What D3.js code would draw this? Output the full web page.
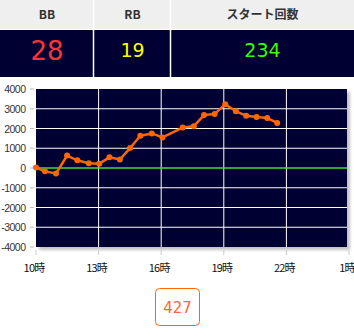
<!DOCTYPE html>
<html lang="ja">
<head>
  <meta charset="utf-8">
  <title>スランプグラフ</title>
  <script src="https://cdnjs.cloudflare.com/ajax/libs/d3/7.8.5/d3.min.js"></script>
  <style>
    body { margin: 0; background: #fff; }
    svg { display: block; }
  </style>
</head>
<body>
<div id="ChartArea"></div>
<script>
// ヘッダーの項目と値
const headLabels = ["BB", "RB", "スタート回数"];
const headValues = ["28", "19", "234"];
const headColors = ["#ff3333", "#ffff00", "#33ff00"];

// グラフデータ（時刻と差枚）
const hours = [10.0, 10.43, 10.96, 11.49, 11.98, 12.53, 13.03, 13.52, 14.02, 14.51, 15.0, 15.55, 16.06,
               17.03, 17.56, 18.05, 18.56, 19.07, 19.58, 20.07, 20.57, 21.08, 21.56];
const values = [20, -170, -280, 630, 390, 240, 220, 540, 430, 1010, 1630, 1750, 1550,
                2050, 2110, 2680, 2730, 3230, 2870, 2650, 2580, 2530, 2280];
const xTicks = [10, 13, 16, 19, 22, 25];
const xTickLabels = ["10時", "13時", "16時", "19時", "22時", "1時"];
const yTicks = [4000, 3000, 2000, 1000, 0, -1000, -2000, -3000, -4000];
const total = "427";

const W = 354, H = 336;
const svg = d3.select("#ChartArea").append("svg")
  .attr("width", W).attr("height", H);

// ---- header table ----
const colX = [0, 94, 171, 354];
const head = svg.append("g");
head.append("rect").attr("x", 0).attr("y", 0).attr("width", W).attr("height", 29).attr("fill", "#efefef");
head.append("rect").attr("x", 0).attr("y", 30).attr("width", W).attr("height", 47).attr("fill", "#000033");
headLabels.forEach(function(t, i) {
  const cx = (colX[i] + colX[i + 1]) / 2;
  head.append("text").attr("x", cx).attr("y", 19)
    .attr("text-anchor", "middle")
    .attr("font-family", "'Noto Sans CJK JP', 'Noto Sans', sans-serif")
    .attr("font-weight", "bold").attr("font-size", 12).attr("fill", "#333")
    .text(t);
  head.append("text").attr("x", cx).attr("y", i === 0 ? 60 : 57)
    .attr("text-anchor", "middle")
    .attr("font-family", "'DejaVu Sans', sans-serif")
    .attr("font-size", i === 0 ? 26 : 19).attr("fill", headColors[i])
    .text(headValues[i]);
});
[94, 171].forEach(function(xx) {
  head.append("line").attr("x1", xx - 0.5).attr("x2", xx - 0.5).attr("y1", 0).attr("y2", 77)
    .attr("stroke", "#fff").attr("stroke-width", 1.5);
});

// ---- chart ----
const pLeft = 36, pRight = 347, pTop = 89, pBottom = 247;
const x = d3.scaleLinear().domain([10, 25]).range([pLeft, pLeft + 62.6 * 5]);
const y = d3.scaleLinear().domain([-4000, 4000]).range([pBottom, pTop]);

const defs = svg.append("defs");
const f = defs.append("filter").attr("id", "shadow")
  .attr("x", "-5%").attr("y", "-5%").attr("width", "115%").attr("height", "115%");
f.append("feDropShadow").attr("dx", 3).attr("dy", 3).attr("stdDeviation", 1.5)
  .attr("flood-color", "#999").attr("flood-opacity", 0.6);

const chart = svg.append("g");
chart.append("rect").attr("x", pLeft).attr("y", pTop)
  .attr("width", pRight - pLeft).attr("height", pBottom - pTop)
  .attr("fill", "#000033").attr("filter", "url(#shadow)");

// grid
chart.selectAll(".hgrid").data(yTicks.filter(function(d) { return d !== 0 && Math.abs(d) !== 4000; }))
  .enter().append("line").attr("class", "hgrid")
  .attr("x1", pLeft).attr("x2", pRight)
  .attr("y1", function(d) { return y(d); }).attr("y2", function(d) { return y(d); })
  .attr("stroke", "#fff").attr("stroke-width", 1);
chart.selectAll(".vgrid").data(xTicks.filter(function(d) { return x(d) > pLeft + 1 && x(d) < pRight - 1; }))
  .enter().append("line").attr("class", "vgrid")
  .attr("x1", function(d) { return x(d); }).attr("x2", function(d) { return x(d); })
  .attr("y1", pTop).attr("y2", pBottom)
  .attr("stroke", "#fff").attr("stroke-width", 1);
chart.append("line").attr("x1", pLeft).attr("x2", pRight)
  .attr("y1", y(0)).attr("y2", y(0))
  .attr("stroke", "#44dd33").attr("stroke-width", 1.5);

// y axis labels
chart.selectAll(".ytick").data(yTicks).enter().append("line")
  .attr("x1", 30).attr("x2", 34)
  .attr("y1", function(d) { return y(d); }).attr("y2", function(d) { return y(d); })
  .attr("stroke", "#bbb");
chart.selectAll(".ylab").data(yTicks).enter().append("text")
  .attr("x", 25.5).attr("y", function(d) { return y(d) + 4; })
  .attr("text-anchor", "end")
  .attr("font-family", "'Liberation Sans', sans-serif").attr("font-size", 10.5)
  .attr("letter-spacing", -0.5).attr("fill", "#333")
  .text(function(d) { return d; });

// x axis labels
chart.selectAll(".xtick").data(xTicks).enter().append("line")
  .attr("x1", function(d) { return x(d); }).attr("x2", function(d) { return x(d); })
  .attr("y1", 250).attr("y2", 255).attr("stroke", "#ccc");
chart.selectAll(".xlab").data(xTicks).enter().append("text")
  .attr("x", function(d) { return x(d) - 2; }).attr("y", 272)
  .attr("text-anchor", "middle")
  .attr("font-family", "'Noto Sans CJK JP', sans-serif").attr("font-size", 11)
  .attr("letter-spacing", -0.8).attr("fill", "#111")
  .text(function(d, i) { return xTickLabels[i]; });

// line
const pts = hours.map(function(h, i) { return [h, values[i]]; });
chart.append("path").datum(pts)
  .attr("d", d3.line().x(function(d) { return x(d[0]); }).y(function(d) { return y(d[1]); }))
  .attr("fill", "none").attr("stroke", "#ff6600").attr("stroke-width", 2.5)
  .attr("stroke-linejoin", "round");
chart.selectAll(".pt").data(pts).enter().append("circle")
  .attr("cx", function(d) { return x(d[0]); }).attr("cy", function(d) { return y(d[1]); })
  .attr("r", 3).attr("fill", "#ff6600");

// total button
const btn = svg.append("g");
btn.append("rect").attr("x", 155.5).attr("y", 288.5).attr("width", 44).attr("height", 37)
  .attr("rx", 4).attr("fill", "#fff").attr("stroke", "#ff6600").attr("stroke-width", 1);
btn.append("text").attr("x", 177.5).attr("y", 313)
  .attr("text-anchor", "middle")
  .attr("font-family", "'DejaVu Sans', sans-serif").attr("font-size", 15)
  .attr("fill", "#ff6633").text(total);
</script>
</body>
</html>
